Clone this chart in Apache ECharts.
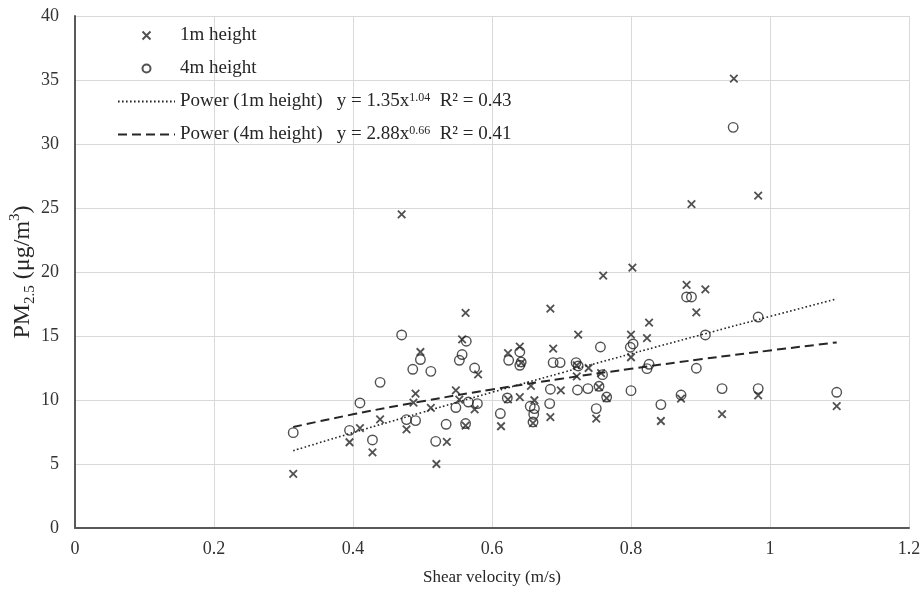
<!DOCTYPE html>
<html>
<head>
<meta charset="utf-8">
<script src="https://cdn.jsdelivr.net/npm/echarts@6/dist/echarts.min.js"></script>
<style>
  html, body { margin: 0; padding: 0; background: #fff; }
  #main { width: 922px; height: 594px; }
</style>
</head>
<body>
<div id="main"></div>
<script>
// 1m height
const x1m = [0.314, 0.395, 0.410, 0.428, 0.439, 0.477, 0.470, 0.487, 0.490, 0.497, 0.512, 0.520, 0.535, 0.548, 0.553, 0.557, 0.562, 0.562, 0.575, 0.580, 0.613, 0.623, 0.623, 0.640, 0.642, 0.640, 0.656, 0.661, 0.659, 0.684, 0.684, 0.688, 0.699, 0.722, 0.722, 0.724, 0.739, 0.750, 0.754, 0.757, 0.760, 0.765, 0.800, 0.800, 0.802, 0.823, 0.826, 0.843, 0.872, 0.880, 0.887, 0.894, 0.907, 0.931, 0.948, 0.983, 0.983, 1.096]
const y1m = [4.22, 6.70, 7.81, 5.91, 8.49, 7.71, 24.5, 9.8, 10.5, 13.75, 9.38, 5.0, 6.72, 10.76, 10.03, 14.74, 16.8, 8.0, 9.27, 12.0, 7.95, 13.67, 10.05, 14.17, 12.9, 10.23, 11.1, 9.98, 8.2, 8.67, 17.14, 14.01, 10.76, 11.85, 12.7, 15.1, 12.5, 8.55, 11.0, 12.1, 19.72, 10.15, 15.1, 13.34, 20.34, 14.84, 16.05, 8.36, 10.11, 19.0, 25.3, 16.85, 18.65, 8.9, 35.1, 25.97, 10.37, 9.53]

// 4m height
const x4m = [0.314, 0.395, 0.410, 0.428, 0.439, 0.470, 0.477, 0.486, 0.490, 0.497, 0.512, 0.519, 0.534, 0.548, 0.553, 0.557, 0.563, 0.566, 0.562, 0.575, 0.579, 0.612, 0.622, 0.624, 0.640, 0.642, 0.640, 0.655, 0.661, 0.660, 0.659, 0.683, 0.684, 0.688, 0.698, 0.721, 0.724, 0.723, 0.738, 0.750, 0.754, 0.756, 0.759, 0.765, 0.799, 0.803, 0.800, 0.823, 0.826, 0.843, 0.872, 0.880, 0.887, 0.894, 0.907, 0.931, 0.947, 0.983, 0.983, 1.096]
const y4m = [7.45, 7.63, 9.77, 6.88, 11.38, 15.08, 8.47, 12.4, 8.39, 13.16, 12.24, 6.77, 8.1, 9.41, 13.1, 13.55, 14.59, 9.84, 8.16, 12.5, 9.72, 8.94, 10.16, 13.1, 13.75, 12.97, 12.71, 9.51, 9.33, 8.88, 8.28, 9.72, 10.84, 12.92, 12.92, 12.92, 12.66, 10.78, 10.89, 9.33, 11.07, 14.14, 11.98, 10.23, 14.12, 14.38, 10.73, 12.45, 12.79, 9.64, 10.39, 18.05, 18.05, 12.48, 15.08, 10.89, 31.3, 16.48, 10.89, 10.6]

// trend lines
const trendX = [0.314, 0.4, 0.5, 0.6, 0.7, 0.8, 0.9, 1.0, 1.096]
const trend1m = [6.04, 7.45, 9.04, 10.6, 12.12, 13.61, 15.08, 16.53, 17.9]
const trend4m = [7.89, 8.88, 9.90, 10.82, 11.66, 12.44, 13.18, 13.87, 14.5]

const xTicks = [0, 0.2, 0.4, 0.6, 0.8, 1, 1.2]
const yTicks = [0, 5, 10, 15, 20, 25, 30, 35, 40]

const FONT = 'Liberation Serif'
const INK = '#262626'

const pairs = (xs, ys) => xs.map((x, i) => [x, ys[i]])

const legendText = {
  '1m height': '{a|1m height}',
  '4m height': '{a|4m height}',
  'Power (1m height)': '{a|Power (1m height)   y = 1.35x}{sup|1.04}{a|  R² = 0.43}',
  'Power (4m height)': '{a|Power (4m height)   y = 2.88x}{sup|0.66}{a|  R² = 0.41}'
}

const option = {
  animation: false,
  textStyle: { fontFamily: FONT },
  grid: { left: 75, right: 13, top: 16, bottom: 66, outerBoundsMode: 'none', containLabel: false },
  legend: {
    orient: 'vertical',
    left: 112,
    top: 21,
    itemWidth: 57,
    itemHeight: 8,
    itemGap: 14,
    data: [
      { name: '1m height' },
      { name: '4m height' },
      { name: 'Power (1m height)', itemStyle: { opacity: 0 } },
      { name: 'Power (4m height)', itemStyle: { opacity: 0 } }
    ],
    formatter: name => legendText[name],
    textStyle: {
      rich: {
        a: { fontFamily: FONT, fontSize: 19, color: INK, verticalAlign: 'middle' },
        sup: { fontFamily: FONT, fontSize: 12, color: INK, verticalAlign: 'top' }
      }
    }
  },
  xAxis: {
    type: 'value',
    min: xTicks[0],
    max: xTicks[xTicks.length - 1],
    interval: 0.2,
    name: 'Shear velocity (m/s)',
    nameLocation: 'middle',
    nameGap: 41,
    nameMoveOverlap: false,
    nameTextStyle: { fontFamily: FONT, fontSize: 17, color: INK },
    axisLine: { lineStyle: { color: '#595959', width: 2 } },
    axisTick: { show: false },
    axisLabel: { fontFamily: FONT, fontSize: 18, color: '#333', margin: 12 },
    splitLine: { lineStyle: { color: '#d9d9d9', width: 1 } }
  },
  yAxis: {
    type: 'value',
    min: yTicks[0],
    max: yTicks[yTicks.length - 1],
    interval: 5,
    name: '{a|PM}{sub|2.5}{a| (μg/m}{sup|3}{a|)}',
    nameLocation: 'middle',
    nameGap: 37,
    nameMoveOverlap: false,
    nameTextStyle: {
      rich: {
        a: { fontFamily: FONT, fontSize: 24, color: INK, lineHeight: 30, verticalAlign: 'middle' },
        sub: { fontFamily: FONT, fontSize: 15, color: INK, verticalAlign: 'bottom' },
        sup: { fontFamily: FONT, fontSize: 15, color: INK, verticalAlign: 'top' }
      }
    },
    axisLine: { show: true, lineStyle: { color: '#595959', width: 2 } },
    axisTick: { show: false },
    axisLabel: { fontFamily: FONT, fontSize: 18, color: '#333', margin: 16 },
    splitLine: { lineStyle: { color: '#d9d9d9', width: 1 } }
  },
  series: [
    {
      name: '1m height',
      type: 'scatter',
      symbol: 'path://M0,0L10,10M10,0L0,10',
      symbolSize: 7.5,
      itemStyle: { color: 'rgba(0,0,0,0)', borderColor: INK, borderWidth: 1.8 },
      data: pairs(x1m, y1m),
      z: 3
    },
    {
      name: '4m height',
      type: 'scatter',
      symbol: 'circle',
      symbolSize: 9.5,
      itemStyle: { color: 'rgba(0,0,0,0)', borderColor: INK, borderWidth: 1.4 },
      data: pairs(x4m, y4m),
      z: 3
    },
    {
      name: 'Power (1m height)',
      type: 'line',
      smooth: true,
      symbol: 'none',
      lineStyle: { color: INK, width: 1.6, type: [1.6, 2.4] },
      itemStyle: { color: INK },
      data: pairs(trendX, trend1m),
      z: 2
    },
    {
      name: 'Power (4m height)',
      type: 'line',
      smooth: true,
      symbol: 'none',
      lineStyle: { color: INK, width: 2, type: [9, 5] },
      itemStyle: { color: INK },
      data: pairs(trendX, trend4m),
      z: 2
    }
  ]
}

const myChart = echarts.init(document.getElementById('main'))
myChart.setOption(option)
</script>
</body>
</html>
